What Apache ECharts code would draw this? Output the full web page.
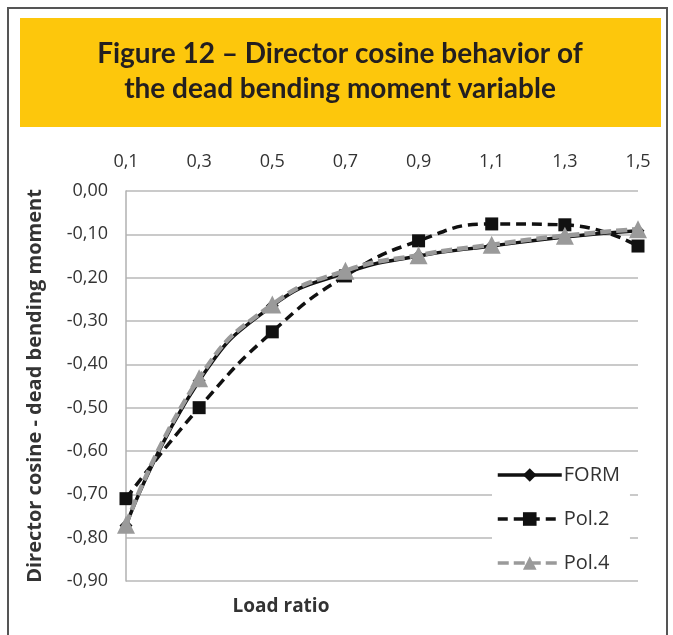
<!DOCTYPE html>
<html>
<head>
<meta charset="utf-8">
<script src="https://cdn.jsdelivr.net/npm/echarts@6/dist/echarts.min.js"></script>
<style>
 html, body { margin: 0; padding: 0; background: #fff; }
 #chart { width: 673px; height: 635px; }
</style>
</head>
<body>
<div id="chart"></div>
<script>
// load ratio categories
const loadRatio = ['0,1', '0,3', '0,5', '0,7', '0,9', '1,1', '1,3', '1,5']

// director cosine values
const formValues = [-0.772, -0.438, -0.265, -0.189, -0.150, -0.127, -0.106, -0.092]
const pol2Values = [-0.710, -0.500, -0.325, -0.196, -0.115, -0.076, -0.078, -0.127]
const pol4Values = [-0.770, -0.432, -0.262, -0.184, -0.148, -0.124, -0.103, -0.088]

const titleLines = ['Figure 12 – Director cosine behavior of', 'the dead bending moment variable']

const labelFont = '"Open Sans", sans-serif'

const chart = echarts.init(document.getElementById('chart'))

chart.setOption({
 backgroundColor: '#fff',
 animation: false,
 graphic: [
 {
 type: 'rect',
 shape: { x: 8, y: 8, width: 659, height: 650 },
 style: { fill: 'none', stroke: '#555', lineWidth: 2 },
 z: 0
 },
 {
 type: 'rect',
 shape: { x: 20, y: 18, width: 641, height: 109 },
 style: { fill: '#fdc70c' },
 z: 0
 },
 {
 type: 'text',
 x: 340, y: 71,
 style: {
 text: titleLines.join('\n'),
 font: 'bold 28px Lato, sans-serif',
 fill: '#231f20',
 align: 'center',
 verticalAlign: 'middle',
 lineHeight: 35
 },
 z: 1
 },
 {
 type: 'text',
 x: 281, y: 607,
 style: {
 text: 'Load ratio',
 font: 'bold 19px ' + labelFont,
 fill: '#333',
 align: 'center',
 verticalAlign: 'middle'
 }
 }
 ],
 grid: { left: 126, right: 35, top: 191, bottom: 54, containLabel: false },
 legend: {
 orient: 'vertical',
 left: 492,
 top: 461,
 width: 133,
 padding: [4, 10, 4, 4],
 itemGap: 24,
 itemWidth: 64,
 itemHeight: 17,
 backgroundColor: '#fff',
 lineStyle: { width: 3.5 },
 textStyle: { fontFamily: labelFont, fontSize: 20, color: '#333', padding: [0, 0, 0, -3] },
 data: ['FORM', 'Pol.2', 'Pol.4']
 },
 xAxis: {
 type: 'category',
 position: 'top',
 boundaryGap: false,
 data: loadRatio,
 axisLine: { show: false },
 axisTick: { show: false },
 axisLabel: { fontFamily: labelFont, fontSize: 18, color: '#333', margin: 20 },
 splitLine: { show: false }
 },
 yAxis: {
 type: 'value',
 min: -0.9,
 max: 0,
 interval: 0.1,
 name: 'Director cosine - dead bending moment',
 nameLocation: 'middle',
 nameGap: 81,
 nameTextStyle: { fontFamily: labelFont, fontSize: 20, fontWeight: 'bold', color: '#333' },
 axisLine: { show: true, lineStyle: { color: '#b0b0b0', width: 1.5 } },
 axisTick: { show: false },
 axisLabel: {
 fontFamily: labelFont, fontSize: 18, color: '#333', margin: 18,
 formatter: v => v.toFixed(2).replace('.', ',')
 },
 splitLine: { lineStyle: { color: '#b8b8b8', width: 1.5 } }
 },
 series: [
 {
 name: 'FORM',
 type: 'line',
 data: formValues,
 smooth: true,
 symbol: 'diamond',
 symbolSize: 13,
 lineStyle: { color: '#111', width: 3.5 },
 itemStyle: { color: '#111' },
 z: 2
 },
 {
 name: 'Pol.2',
 type: 'line',
 data: pol2Values,
 smooth: true,
 symbol: 'rect',
 symbolSize: 13,
 lineStyle: { color: '#111', width: 3.5, type: [10, 6] },
 itemStyle: { color: '#111' },
 z: 3
 },
 {
 name: 'Pol.4',
 type: 'line',
 data: pol4Values,
 smooth: true,
 symbol: 'triangle',
 symbolSize: 18,
 lineStyle: { color: '#9a9a9a', width: 4.5, type: [11, 5] },
 itemStyle: { color: '#9a9a9a' },
 z: 4
 }
 ]
})
</script>
</body>
</html>
